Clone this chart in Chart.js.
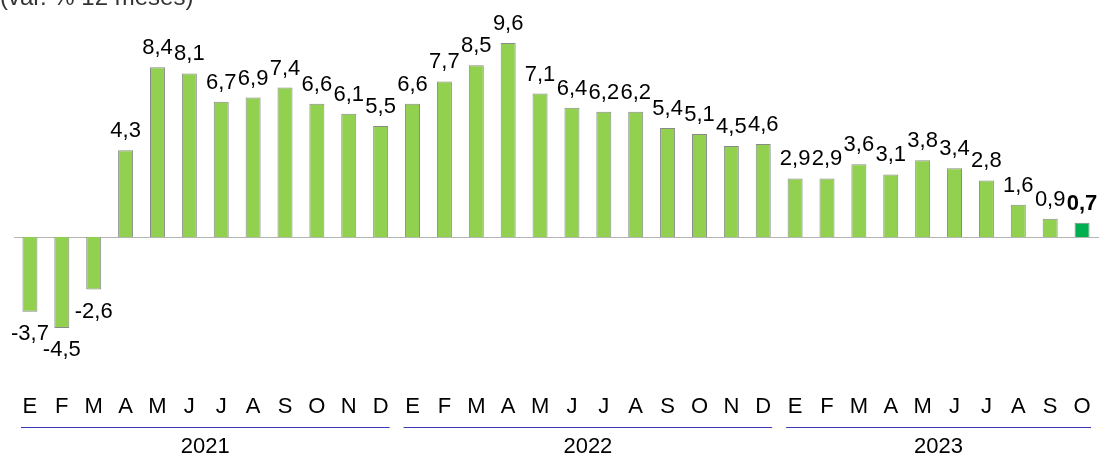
<!DOCTYPE html>
<html>
<head>
<meta charset="utf-8">
<script src="https://cdn.jsdelivr.net/npm/chart.js@4"></script>
<style>
  html, body { margin: 0; padding: 0; background: #fff; }
  #wrap { width: 1099px; height: 457px; }
</style>
</head>
<body>
<div id="wrap"><canvas id="ipc"></canvas></div>
<script>
const months = ["E", "F", "M", "A", "M", "J", "J", "A", "S", "O", "N", "D",
  "E", "F", "M", "A", "M", "J", "J", "A", "S", "O", "N", "D",
  "E", "F", "M", "A", "M", "J", "J", "A", "S", "O"];
const years = ["2021", "2022", "2023"];
const yearCounts = [12, 12, 10];
const values = [-3.7, -4.5, -2.6, 4.3, 8.4, 8.1, 6.7, 6.9, 7.4, 6.6, 6.1, 5.5,
  6.6, 7.7, 8.5, 9.6, 7.1, 6.4, 6.2, 6.2, 5.4, 5.1, 4.5, 4.6,
  2.9, 2.9, 3.6, 3.1, 3.8, 3.4, 2.8, 1.6, 0.9, 0.7];
const subtitle = "(var. % 12 meses)";

function chartColors() {
  return {
    bar: "#92d050",
    lastBar: "#00b050",
    barBorder: "#8a8a8a",
    zeroLine: "#b4b4b4",
    yearLine: "#3a3ab8",
    text: "#000000",
  };
}

const colors = chartColors();
const font = "'Liberation Sans', Arial, sans-serif";
const lastIdx = values.length - 1;

// labels, zero line, month and year axis drawn by hand
const excelLook = {
  id: "excelLook",
  beforeDatasetsDraw: (chart) => {
    const ctx = chart.ctx;
    const y = chart.scales.y;
    const area = chart.chartArea;
    ctx.save();
    ctx.strokeStyle = colors.zeroLine;
    ctx.lineWidth = 1;
    ctx.beginPath();
    const y0 = Math.round(y.getPixelForValue(0)) + 0.5;
    ctx.moveTo(area.left, y0);
    ctx.lineTo(chart.width, y0);
    ctx.stroke();
    ctx.restore();
  },
  afterDatasetsDraw: (chart) => {
    const ctx = chart.ctx;
    const x = chart.scales.x;
    const meta = chart.getDatasetMeta(0);
    ctx.save();
    ctx.fillStyle = colors.text;
    ctx.textAlign = "center";
    ctx.textBaseline = "alphabetic";

    // value labels
    meta.data.forEach((bar, i) => {
      const v = values[i];
      const txt = v.toFixed(1).replace(".", ",");
      ctx.font = (i === lastIdx ? "bold " : "") + "22px " + font;
      if (v >= 0) {
        ctx.fillText(txt, bar.x, bar.y - 13);
      } else {
        ctx.fillText(txt, bar.x, bar.y + 28);
      }
    });

    // months
    ctx.font = "22px " + font;
    months.forEach((m, i) => {
      ctx.fillText(m, x.getPixelForValue(i), 413);
    });

    // years with blue rules
    let start = 0;
    const half = (x.getPixelForValue(1) - x.getPixelForValue(0)) / 2;
    years.forEach((yr, k) => {
      const end = start + yearCounts[k] - 1;
      const left = x.getPixelForValue(start) - half + 7;
      const right = x.getPixelForValue(end) + half - 7;
      ctx.strokeStyle = colors.yearLine;
      ctx.lineWidth = 1;
      ctx.beginPath();
      ctx.moveTo(left, 427.5);
      ctx.lineTo(right, 427.5);
      ctx.stroke();
      ctx.fillText(yr, (left + right) / 2, 453);
      start = end + 1;
    });

    // subtitle, cut by the top edge
    ctx.textAlign = "left";
    ctx.font = "24px " + font;
    ctx.fillStyle = "#333333";
    ctx.fillText(subtitle, 0, 5);
    ctx.restore();
  },
};

const config = {
  type: "bar",
  data: {
    labels: months.map((m, i) => i),
    datasets: [
      {
        data: values,
        backgroundColor: values.map((v, i) => (i === lastIdx ? colors.lastBar : colors.bar)),
        borderColor: colors.barBorder,
        borderWidth: 1,
        barPercentage: 0.94,
        categoryPercentage: 0.5,
      },
    ],
  },
  options: {
    animation: false,
    responsive: true,
    maintainAspectRatio: false,
    layout: {
      padding: { left: 14, right: 1, top: 35, bottom: 119 },
    },
    plugins: {
      legend: { display: false },
      tooltip: { enabled: false },
    },
    scales: {
      x: { display: false },
      y: { display: false, min: -5, max: 10 },
    },
  },
  plugins: [excelLook],
};

new Chart(document.getElementById("ipc"), config);
</script>
</body>
</html>
